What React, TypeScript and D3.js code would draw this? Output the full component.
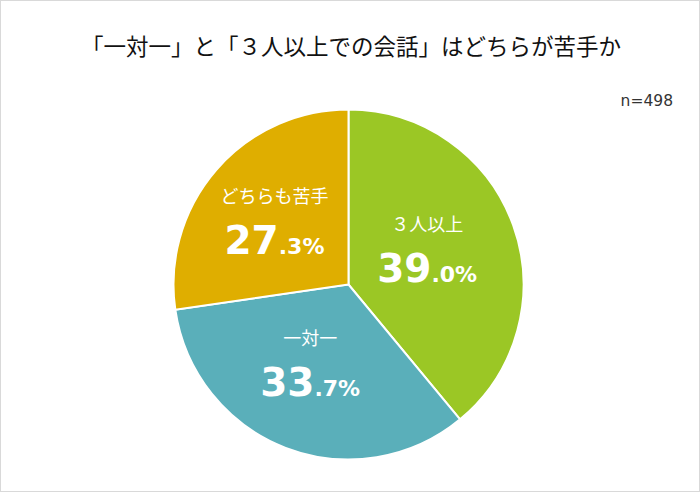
import React, { useEffect } from "react";
import * as d3 from "d3";

const categories = ["３人以上", "一対一", "どちらも苦手"];
const values = [39.0, 33.7, 27.3];
const colors = ["#9BC725", "#5AAFBA", "#DFAE00"];
const title = "「一対一」と「３人以上での会話」はどちらが苦手か";
const note = "n=498";

const W = 700;
const H = 492;
const cx = 348.5;
const cy = 284.5;
const R = 175;
const FONT = "'Noto Sans CJK JP', 'Noto Sans', sans-serif";
const NUMFONT = "'DejaVu Sans', Verdana, sans-serif";

export default function App() {
  useEffect(() => {
    document.body.style.margin = "0";
  }, []);

  const pie = d3.pie<number>().sort(null).value((d) => d)(values);
  const arc = d3.arc<d3.PieArcDatum<number>>().innerRadius(0).outerRadius(R);
  const labelArc = d3.arc<d3.PieArcDatum<number>>().innerRadius(90).outerRadius(90);

  return (
    <div style={{ position: "absolute", left: 0, top: 0 }}>
      <svg width={W} height={H} style={{ display: "block" }}>
        <rect x={0.5} y={0.5} width={W - 1} height={H - 1} fill="#fff" stroke="#d9d9d9" />
        <text x={351} y={55} textAnchor="middle" fontFamily={FONT} fontSize={22.5} fill="#111">
          {title}
        </text>
        <text x={673} y={106} textAnchor="end" fontFamily={NUMFONT} fontSize={15.5} fill="#333">
          {note}
        </text>
        <g transform={`translate(${cx},${cy})`}>
          {pie.map((p, i) => (
            <path key={i} d={arc(p) || ""} fill={colors[i]} stroke="#fff" strokeWidth={2} />
          ))}
          {pie.map((p, i) => {
            const [x0, ly] = labelArc.centroid(p);
            const lx = x0 - 6;
            const v = values[i].toFixed(1);
            const [intPart, decPart] = v.split(".");
            return (
              <g key={"l" + i} fill="#fff" textAnchor="middle">
                <text x={lx} y={ly - 23} fontSize={18} fontFamily={FONT}>
                  {categories[i]}
                </text>
                <text x={lx} y={ly + 28} fontWeight={700} fontFamily={NUMFONT}>
                  <tspan fontSize={39}>{intPart}</tspan>
                  <tspan fontSize={22}>{"." + decPart + "%"}</tspan>
                </text>
              </g>
            );
          })}
        </g>
      </svg>
    </div>
  );
}
